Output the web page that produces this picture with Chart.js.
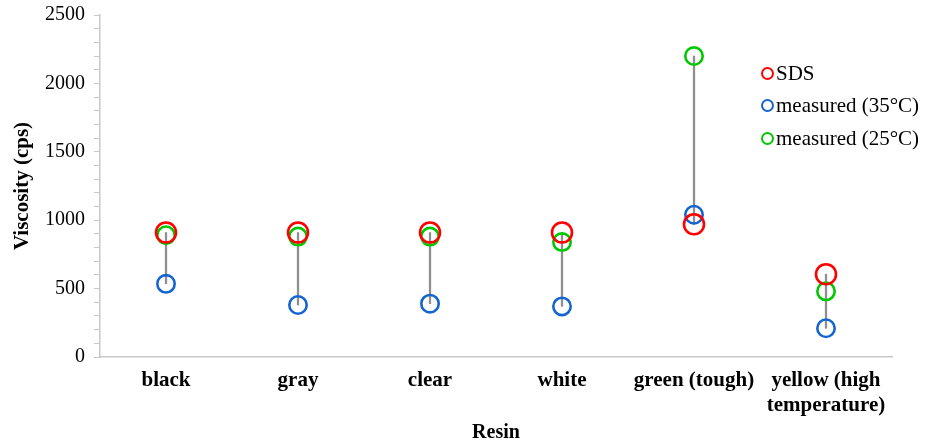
<!DOCTYPE html>
<html>
<head>
<meta charset="utf-8">
<script src="https://cdn.jsdelivr.net/npm/chart.js@4/dist/chart.umd.min.js"></script>
<style>
  html, body { margin: 0; padding: 0; background: #fff; }
  #wrap { position: relative; width: 926px; height: 445px; }
  #legend { position: absolute; left: 761px; top: 57px; font-family: 'Liberation Serif', 'Times New Roman', serif; font-size: 21px; color: #000; }
  #legend .item { display: flex; align-items: center; height: 32.5px; white-space: nowrap; }
  #legend .dot { width: 9px; height: 9px; border-radius: 50%; border: 2.5px solid; margin-right: 2px; box-sizing: content-box; }
</style>
</head>
<body>
<div id="wrap">
  <canvas id="c" width="926" height="445"></canvas>
  <div id="legend"></div>
</div>
<script>
// Resin viscosity: datasheet value vs. measured at two temperatures
const resins = ['black', 'gray', 'clear', 'white', 'green (tough)', ['yellow (high', 'temperature)']];
const sds = [910, 910, 910, 910, 970, 605];
const measured35 = [535, 380, 390, 370, 1040, 210];
const measured25 = [890, 880, 880, 840, 2200, 480];
const yTicksMajor = [0, 500, 1000, 1500, 2000, 2500];

const seriesNames = ['SDS', 'measured (35°C)', 'measured (25°C)'];
const seriesColors = ['#ff0000', '#1565d0', '#00c800'];
const seriesRadius = [10, 8.7, 8.7];
const seriesData = [sds, measured35, measured25];

// vertical connector from lowest to highest reading per resin
const ranges = resins.map((_, i) => {
  const vals = seriesData.map(s => s[i]);
  return [Math.min(...vals), Math.max(...vals)];
});

const serif = "'Liberation Serif', 'Times New Roman', serif";

const pointSets = seriesNames.map((name, k) => ({
  type: 'line',
  label: name,
  data: seriesData[k],
  showLine: false,
  borderColor: seriesColors[k],
  backgroundColor: 'rgba(0,0,0,0)',
  pointRadius: seriesRadius[k],
  pointHoverRadius: seriesRadius[k],
  pointBorderWidth: 2.6,
  order: 1
}));

new Chart(document.getElementById('c'), {
  type: 'bar',
  data: {
    labels: resins,
    datasets: [
      {
        type: 'bar',
        label: 'range',
        data: ranges,
        backgroundColor: '#8f8f8f',
        barThickness: 1.6,
        order: 10
      },
      ...pointSets
    ]
  },
  options: {
    responsive: false,
    animation: false,
    layout: { padding: { top: 0, right: 34, left: 0, bottom: 0 } },
    plugins: { legend: { display: false }, tooltip: { enabled: false } },
    scales: {
      x: {
        offset: true,
        grid: { display: false, drawTicks: false },
        border: { display: true, color: '#c8c8c8', width: 1.5 },
        ticks: {
          color: '#000',
          padding: 11,
          maxRotation: 0,
          autoSkip: false,
          font: { family: serif, size: 21, weight: 'bold', lineHeight: 1.2 }
        },
        title: {
          display: true,
          text: 'Resin',
          color: '#000',
          padding: { top: 6, bottom: 0 },
          font: { family: serif, size: 20, weight: 'bold' }
        },
        afterFit: s => { s.height = 88; }
      },
      y: {
        min: 0,
        max: 2500,
        grid: { display: true, drawOnChartArea: false, drawTicks: true, tickLength: 6, color: '#c8c8c8' },
        border: { display: true, color: '#c8c8c8', width: 1.5 },
        ticks: {
          stepSize: 100,
          autoSkip: false,
          padding: 9,
          color: '#000',
          font: { family: serif, size: 20 },
          callback: v => (yTicksMajor.includes(v) ? v : '')
        },
        title: {
          display: true,
          text: 'Viscosity (cps)',
          color: '#000',
          padding: { top: 10, bottom: 0 },
          font: { family: serif, size: 21, weight: 'bold' }
        },
        afterFit: s => { s.width = 100; s.paddingTop = 15; s.paddingBottom = 0; }
      }
    }
  }
});

// legend entries
const legend = document.getElementById('legend');
seriesNames.forEach((name, k) => {
  const item = document.createElement('div');
  item.className = 'item';
  const dot = document.createElement('span');
  dot.className = 'dot';
  dot.style.borderColor = seriesColors[k];
  const txt = document.createElement('span');
  txt.textContent = name;
  item.appendChild(dot);
  item.appendChild(txt);
  legend.appendChild(item);
});
</script>
</body>
</html>
